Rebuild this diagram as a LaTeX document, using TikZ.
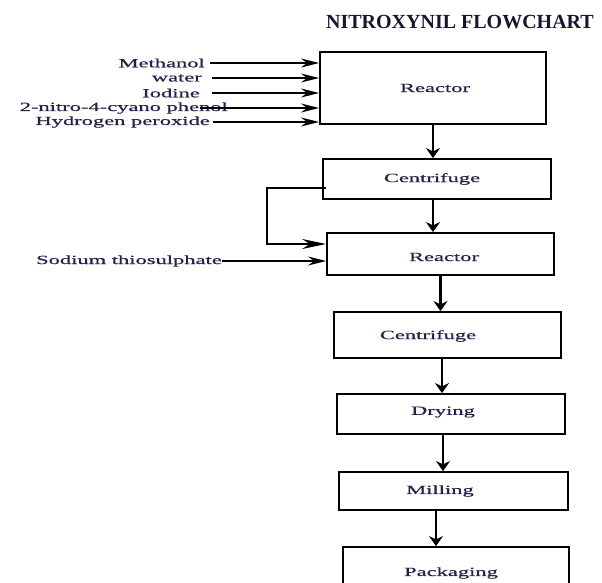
\documentclass[tikz,border=0pt]{standalone}
\usepackage{fontspec}
\setmainfont{Liberation Serif}
\newfontfamily\lblfont[FakeBold=0.5]{Liberation Serif}
\usetikzlibrary{arrows.meta}
\definecolor{ink}{HTML}{23234A}
\definecolor{titleink}{HTML}{161630}
% wide label text
\newcommand\wtxt[1]{\scalebox{1.8}[1]{\lblfont #1}}

\begin{document}
\begin{tikzpicture}[x=1pt,y=-1pt,
  box/.style={draw=black, line width=1.8pt, inner sep=0pt, rectangle},
  lbl/.style={text=ink, font=\fontsize{12.5}{14}\selectfont, inner sep=0pt},
  hflow/.style={line width=1.8pt, -{Stealth[length=18pt,width=9pt]}},
  loopflow/.style={line width=1.8pt, -{Stealth[length=24pt,width=10pt]}},
  vflow/.style={line width=2.2pt, -{Stealth[length=10pt,width=14pt]}},
]
\useasboundingbox (0,0) rectangle (602,583);
\clip (0,0) rectangle (602,583);

% title
\node[font=\fontsize{20}{24}\selectfont\bfseries, text=titleink, inner sep=0pt] (title) at (460,22) {NITROXYNIL FLOWCHART};

% process boxes
\node[box, minimum width=226pt, minimum height=72pt,
      label={[lbl, xshift=2pt]center:\wtxt{Reactor}}] (r1) at (433,88) {};
\node[box, minimum width=228pt, minimum height=40pt,
      label={[lbl, xshift=-5pt]center:\wtxt{Centrifuge}}] (c1) at (437,179) {};
\node[box, minimum width=227pt, minimum height=42pt,
      label={[lbl, xshift=3.5pt, yshift=-3pt]center:\wtxt{Reactor}}] (r2) at (440.5,254) {};
\node[box, minimum width=227pt, minimum height=46pt,
      label={[lbl, xshift=-19.5pt, yshift=-1pt]center:\wtxt{Centrifuge}}] (c2) at (447.5,335) {};
\node[box, minimum width=228pt, minimum height=40pt,
      label={[lbl, xshift=-8pt, yshift=2pt]center:\wtxt{Drying}}] (dr) at (451,414) {};
\node[box, minimum width=229pt, minimum height=38pt,
      label={[lbl, xshift=-13.5pt]center:\wtxt{Milling}}] (mi) at (453.5,491) {};
\node[box, minimum width=226pt, minimum height=62pt,
      label={[lbl, xshift=-5pt, yshift=5pt]center:\wtxt{Packaging}}] (pa) at (456,578) {};

% raw material feeds
\node[lbl, anchor=east] (meth) at (205,63) {\wtxt{Methanol}};
\node[lbl, anchor=east] (wat)  at (202,78) {\wtxt{water}};
\node[lbl, anchor=east] (iod)  at (200,93) {\wtxt{Iodine}};
\node[lbl, anchor=east] (nit)  at (228,108) {\wtxt{2-nitro-4-cyano phenol}};
\node[lbl, anchor=east] (hyd)  at (210,122) {\wtxt{Hydrogen peroxide}};
\node[lbl, anchor=east] (sod)  at (222,261) {\wtxt{Sodium thiosulphate}};

\draw[hflow] ([xshift=5pt]meth.east) -- (meth.east -| r1.west);
\draw[hflow] ([xshift=10pt]wat.east) -- (wat.east -| r1.west);
\draw[hflow] ([xshift=12pt]iod.east) -- (iod.east -| r1.west);
\draw[hflow] ([xshift=-28pt]nit.east) -- (nit.east -| r1.west);
\draw[hflow] ([xshift=3pt]hyd.east) -- (hyd.east -| r1.west);
\draw[hflow] (sod.east) -- (sod.east -| r2.west);

% recycle from the first centrifuge back to the second reactor
\coordinate (bend) at (267,244);
\draw[loopflow] ([shift={(4pt,-9pt)}]c1.west) -| (bend) -- (bend -| r2.west);

% main process line
\draw[vflow] (r1.south) -- (c1.north -| r1.south);
\draw[vflow] (c1.south -| r1.south) -- (r2.north -| r1.south);
\draw[vflow] (r2.south) -- (c2.north -| r2.south);
\draw[vflow] ([xshift=-5.5pt]c2.south) -- ([xshift=-9pt]dr.north);
\draw[vflow] ([xshift=-8pt]dr.south) -- ([xshift=-10.5pt]mi.north);
\draw[vflow] ([xshift=-17.5pt]mi.south) -- ([xshift=-20pt]pa.north);
\end{tikzpicture}
\end{document}
